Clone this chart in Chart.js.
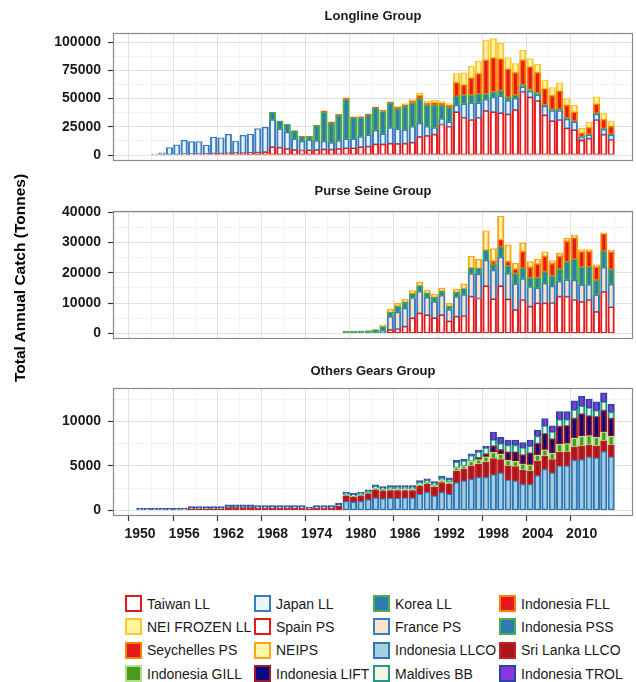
<!DOCTYPE html>
<html>
<head>
<meta charset="utf-8">
<script src="https://cdn.jsdelivr.net/npm/chart.js@4.4.1/dist/chart.umd.min.js"></script>
<style>
html,body{margin:0;padding:0;background:#fff;}
#page{position:relative;width:636px;height:682px;overflow:hidden;font-family:'Liberation Sans',Arial,Helvetica,sans-serif;}
canvas{position:absolute;left:0;}
.ptitle{position:absolute;left:113px;width:520px;text-align:center;font-weight:bold;font-size:13px;line-height:16px;color:#1a1a1a;z-index:2;}
#ytitle{position:absolute;width:300px;left:-130px;top:269px;text-align:center;font-weight:bold;font-size:15.5px;line-height:18px;transform:rotate(-90deg);color:#000;z-index:2;}
#legend{position:absolute;left:125px;top:592px;display:grid;grid-template-columns:129px 119px 126px 130px;grid-auto-rows:23.3px;}
.item{display:flex;align-items:center;font-size:14px;color:#1a1a1a;white-space:nowrap;}
.key{width:17px;height:17px;box-sizing:border-box;border:2px solid;margin-right:5px;flex:none;}
</style>
</head>
<body>
<div id="page">
  <canvas id="c1" width="636" height="170" style="top:0px"></canvas>
  <canvas id="c2" width="636" height="178" style="top:170px"></canvas>
  <canvas id="c3" width="636" height="212" style="top:348px"></canvas>
  <div class="ptitle" style="top:8px">Longline Group</div>
  <div class="ptitle" style="top:183px">Purse Seine Group</div>
  <div class="ptitle" style="top:363px">Others Gears Group</div>
  <div id="ytitle">Total Annual Catch (Tonnes)</div>
  <div id="legend"></div>
</div>
<script>
// ---- categories and tick labels ----
const years = [
  1950,1951,1952,1953,1954,1955,1956,1957,1958,1959,
  1960,1961,1962,1963,1964,1965,1966,1967,1968,1969,
  1970,1971,1972,1973,1974,1975,1976,1977,1978,1979,
  1980,1981,1982,1983,1984,1985,1986,1987,1988,1989,
  1990,1991,1992,1993,1994,1995,1996,1997,1998,1999,
  2000,2001,2002,2003,2004,2005,2006,2007,2008,2009,
  2010,2011,2012,2013,2014
];
const xTickLabels = [1950,1956,1962,1968,1974,1980,1986,1992,1998,2004,2010];
const longlineTicks = [0,25000,50000,75000,100000];
const purseSeineTicks = [0,10000,20000,30000,40000];
const otherGearsTicks = [0,5000,10000];

// ---- Longline group (tonnes per year, 1950-2014) ----
const taiwanLL = [
  null,null,null,null,null,null,700,800,900,1000,
  1200,1300,1500,1600,1800,2000,2200,2500,7000,6500,
  5500,4500,4000,4200,4500,5000,4800,5500,6000,6000,
  7000,7500,9500,9500,10000,9800,10000,11000,16000,17000,
  18000,27000,25000,38000,33000,31000,33000,39000,38000,37000,
  36000,40000,56000,51000,48000,35000,30000,31000,23500,22000,
  13000,14500,31000,18000,13500
];
const japanLL = [
  null,null,700,2000,6500,9000,12300,11000,10900,7800,
  14700,14000,16800,10800,15600,16500,21100,21900,24000,16500,
  14500,9500,8000,9000,8000,7000,6000,7000,8000,8000,
  9000,10000,12000,9000,14000,13000,12000,14000,12000,8000,
  6000,5000,4000,6000,12000,15000,13000,10000,13000,15000,
  12000,10000,4000,5000,5000,8000,9000,8000,8000,7000,
  2500,3000,5000,4500,4000
];
const koreaLL = [
  null,null,null,null,null,null,null,null,null,null,
  null,null,null,null,null,null,null,null,7000,7300,
  7100,7500,4300,3100,13500,26000,17500,22500,35000,18800,
  17000,18000,20000,20000,22000,18000,21000,21000,22000,19000,
  20000,12000,13000,8000,8000,7000,8000,5000,5000,5000,
  3000,3000,2000,2000,2000,1500,1500,1500,1500,1000,
  800,800,1000,800,800
];
const indonesiaFLL = [
  null,null,null,null,null,null,null,null,null,null,
  null,null,null,null,null,null,null,null,null,null,
  null,null,500,500,500,1100,1100,1200,1500,1000,
  1000,1000,1000,1200,1000,1500,1500,2000,2500,2000,
  2500,2000,2000,12000,9000,15000,18000,30000,30000,28000,
  25000,20000,22000,20000,18000,14000,12000,16000,11000,8000,
  3000,6000,8000,8000,7000
];
const neiFrozenLL = [
  null,null,null,null,null,null,null,null,null,null,
  null,null,null,null,null,null,null,null,null,null,
  null,null,null,null,null,null,null,null,null,null,
  null,null,null,null,null,1000,1000,1000,2000,1700,
  2000,2000,1500,8000,10700,10600,11000,17500,17000,14200,
  10200,7900,8700,7300,7300,7700,7200,7400,6000,6100,
  4200,5100,6500,5500,5000
];

// ---- Purse seine group ----
const spainPS = [
  null,null,null,null,null,null,null,null,null,null,
  null,null,null,null,null,null,null,null,null,null,
  null,null,null,null,null,null,null,null,null,null,
  null,null,null,null,1100,1400,2200,5000,6600,6000,
  5000,6000,3900,5500,5700,12100,11500,15600,11300,15600,
  11200,7700,11000,8800,9900,9900,10000,12100,12100,11000,
  10400,11000,7100,13700,8600
];
const francePS = [
  null,null,null,null,null,null,null,null,null,null,
  null,null,null,null,null,null,null,null,null,null,
  null,null,null,null,null,null,null,null,null,null,
  null,null,null,700,4300,5500,6000,6500,7200,5800,
  5400,6400,3800,6500,7000,7500,8000,8500,9500,9500,
  8500,8500,7000,6500,5000,6500,5500,5000,5500,6500,
  5500,5000,5500,8000,7500
];
const indonesiaPSS = [
  null,null,null,null,null,null,null,null,null,null,
  null,null,null,null,null,null,null,null,null,null,
  null,null,null,null,null,null,null,null,700,700,
  800,900,1200,1500,1500,2000,2000,1600,2000,1500,
  1500,1500,1200,1500,2100,2000,2000,3300,2000,3500,
  2500,3500,3500,3000,3500,4000,3500,4000,6000,7000,
  6000,6000,5000,5500,5000
];
const seychellesPS = [
  null,null,null,null,null,null,null,null,null,null,
  null,null,null,null,null,null,null,null,null,null,
  null,null,null,null,null,null,null,null,null,null,
  null,null,null,null,null,null,null,null,null,null,
  null,null,null,null,null,null,null,null,1000,2400,
  1500,1500,5500,3500,4500,5000,4000,4300,6800,7000,
  5000,5000,4300,5700,5800
];
const neiPS = [
  null,null,null,null,null,null,null,null,null,null,
  null,null,null,null,null,null,null,null,null,null,
  null,null,null,null,null,null,null,null,null,null,
  null,null,null,600,1000,1000,1000,1000,1000,1000,
  1000,1000,1000,1000,1500,3900,2900,6500,4200,7700,
  5500,1900,2900,1900,1500,1500,1000,1000,1000,1000,
  800,700,700,300,600
];

// ---- Other gears group ----
const indonesiaLLCO = [
  null,null,null,null,null,null,null,null,null,null,
  null,null,null,null,null,null,null,null,null,null,
  null,null,null,null,null,null,null,null,1000,900,
  1000,1200,1400,1300,1350,1350,1400,1400,1800,2000,
  1600,2000,1800,3100,3300,3500,3700,3700,4000,4200,
  3400,3300,2900,2900,3900,4600,4200,5000,5000,5600,
  5700,6000,5900,6600,6000
];
const sriLankaLLCO = [
  null,null,null,null,null,null,null,150,150,150,
  150,150,300,300,300,300,250,250,250,250,
  250,250,250,150,250,250,250,450,600,550,
  600,650,900,850,850,850,800,800,900,900,
  1000,1100,1100,1300,1300,1500,1500,1700,1800,1500,
  1600,1600,1600,1500,1600,1500,1500,1500,1500,1500,
  1500,1300,1300,1200,1300
];
const indonesiaGILL = [
  null,null,null,null,null,null,null,null,null,null,
  null,null,null,null,null,null,null,null,null,null,
  null,null,null,null,null,null,null,null,100,100,
  100,100,150,150,150,150,150,150,200,200,
  200,250,250,400,400,500,500,600,700,600,
  600,600,700,700,700,700,700,900,1000,1000,
  1100,1100,1000,1000,1000
];
const indonesiaLIFT = [
  null,null,null,null,null,null,null,null,null,null,
  null,null,null,null,null,null,null,null,null,null,
  null,null,null,null,null,null,null,null,null,null,
  null,null,null,null,null,null,null,null,null,null,
  null,null,null,null,null,null,200,300,700,500,
  900,1000,1000,1300,1300,1800,1600,2000,2000,2200,
  2500,2200,2300,2400,2000
];
const maldivesBB = [
  60,60,60,60,60,60,80,80,80,80,
  80,80,100,100,100,100,80,80,80,80,
  80,80,80,60,80,80,80,150,200,200,
  200,200,250,200,250,250,250,250,250,250,
  250,300,300,600,550,650,650,700,700,700,
  800,800,800,800,800,900,800,800,700,1000,
  900,900,700,1000,700
];
const indonesiaTROL = [
  140,140,140,140,140,140,170,170,170,170,
  170,170,200,200,200,200,180,180,180,180,
  180,180,180,140,180,180,180,200,150,150,
  150,150,160,160,160,160,160,160,170,170,
  170,180,180,200,200,200,200,220,900,700,
  600,600,600,700,700,800,700,900,900,1000,
  1100,1000,1000,1000,900
];

// ---- series styling: [fill, outline] ----
const seriesStyle = {
  'Taiwan LL':      ['#FFFFFF', '#E41A1C'],
  'Japan LL':       ['#EAF2FA', '#3A7DBF'],
  'Korea LL':       ['#2F79B9', '#4DAF4A'],
  'Indonesia FLL':  ['#E31A1C', '#FF7F00'],
  'NEI FROZEN LL':  ['#FFF59D', '#FFC533'],
  'Spain PS':       ['#FFFFFF', '#E41A1C'],
  'France PS':      ['#FBE3C9', '#3A7DBF'],
  'Indonesia PSS':  ['#2F79B9', '#4DAF4A'],
  'Seychelles PS':  ['#E31A1C', '#FF7F00'],
  'NEIPS':          ['#FFF6A8', '#FFA31A'],
  'Indonesia LLCO': ['#A6CEE3', '#2F78B4'],
  'Sri Lanka LLCO': ['#A8161C', '#C42025'],
  'Indonesia GILL': ['#4A9A1E', '#B5DE8A'],
  'Indonesia LIFT': ['#0A0A80', '#9E1A26'],
  'Maldives BB':    ['#F4F6DF', '#23978A'],
  'Indonesia TROL': ['#8A35E0', '#24489A']
};
const legendOrder = [
  'Taiwan LL','Japan LL','Korea LL','Indonesia FLL',
  'NEI FROZEN LL','Spain PS','France PS','Indonesia PSS',
  'Seychelles PS','NEIPS','Indonesia LLCO','Sri Lanka LLCO',
  'Indonesia GILL','Indonesia LIFT','Maldives BB','Indonesia TROL'
];

const FONT = "'Liberation Sans', Arial, Helvetica, sans-serif";
const X_MIN = 1946.33, X_MAX = 2016.97;
const MAJOR_GRID = '#e1e1e1', MINOR_GRID = '#f3f3f3', TICK_COLOR = '#333333';

function series(label, data) {
  const [fill, line] = seriesStyle[label];
  return {
    label, data,
    backgroundColor: fill,
    borderColor: line,
    borderWidth: {left: 2, right: 2, top: 1.2, bottom: 1.2},
    borderSkipped: false,
    inflateAmount: 0.35,
    barPercentage: 0.88,
    categoryPercentage: 1.0
  };
}

// grey frame around each plotting panel
const panelFrame = {
  id: 'panelFrame',
  afterDatasetsDraw(chart) {
    const a = chart.chartArea, ctx = chart.ctx;
    ctx.save();
    ctx.strokeStyle = '#8a8a8a';
    ctx.lineWidth = 1.2;
    ctx.strokeRect(a.left + 0.5, a.top + 0.5, a.right - a.left - 1, a.bottom - a.top - 1);
    ctx.restore();
  }
};

// major ticks plus minor midpoints (and one step beyond) that fall in range
function withMinor(majors, lo, hi) {
  const step = majors[1] - majors[0];
  const all = new Set(majors);
  for (let i = -1; i < majors.length; i++) {
    const m = majors[0] + step * i + step / 2;
    if (m > lo && m < hi) all.add(m);
  }
  return [...all].sort((a, b) => a - b);
}

function panel(id, datasets, yMajors, yMin, yMax, padding, showX) {
  const yMajorSet = new Set(yMajors);
  const xMajorSet = new Set(xTickLabels);
  const yAll = withMinor(yMajors, yMin, yMax);
  const xAll = withMinor(xTickLabels, X_MIN, X_MAX);
  const gridColor = set => c => (c.tick && set.has(c.tick.value)) ? MAJOR_GRID : MINOR_GRID;
  const tickColor = set => c => (c.tick && set.has(c.tick.value)) ? TICK_COLOR : 'rgba(0,0,0,0)';
  const tickFont = {family: FONT, size: 14, weight: 'bold'};

  return new Chart(document.getElementById(id), {
    type: 'bar',
    data: {labels: years, datasets},
    plugins: [panelFrame],
    options: {
      responsive: false,
      animation: false,
      devicePixelRatio: 1,
      layout: {padding},
      plugins: {legend: {display: false}, tooltip: {enabled: false}, title: {display: false}},
      scales: {
        x: {
          type: 'linear', min: X_MIN, max: X_MAX, stacked: true, offset: false,
          afterBuildTicks: a => { a.ticks = xAll.map(v => ({value: v})); },
          afterFit: a => { a.height = showX ? 44 : 0; a.paddingLeft = 0; a.paddingRight = 0; },
          ticks: {
            display: showX, autoSkip: false, maxRotation: 0, minRotation: 0, padding: 5,
            font: tickFont, color: '#1a1a1a',
            callback: v => xMajorSet.has(v) ? String(v) : ''
          },
          grid: {
            color: gridColor(xMajorSet), lineWidth: 1,
            drawTicks: showX, tickLength: 5, tickWidth: 1.2, tickColor: tickColor(xMajorSet)
          },
          border: {display: false}
        },
        y: {
          stacked: true, min: yMin, max: yMax,
          afterBuildTicks: a => { a.ticks = yAll.map(v => ({value: v})); },
          afterFit: a => { a.width = 113; a.paddingTop = 0; a.paddingBottom = 0; },
          ticks: {
            autoSkip: false, padding: 7, font: tickFont, color: '#1a1a1a',
            callback: v => yMajorSet.has(v) ? String(v) : ''
          },
          grid: {
            color: gridColor(yMajorSet), lineWidth: 1,
            drawTicks: true, tickLength: 5, tickWidth: 1.2, tickColor: tickColor(yMajorSet)
          },
          border: {display: false}
        }
      }
    }
  });
}

panel('c1', [
  series('Taiwan LL', taiwanLL),
  series('Japan LL', japanLL),
  series('Korea LL', koreaLL),
  series('Indonesia FLL', indonesiaFLL),
  series('NEI FROZEN LL', neiFrozenLL)
], longlineTicks, -5300, 108000, {top: 33, bottom: 9, left: 0, right: 3}, false);

panel('c2', [
  series('Spain PS', spainPS),
  series('France PS', francePS),
  series('Indonesia PSS', indonesiaPSS),
  series('Seychelles PS', seychellesPS),
  series('NEIPS', neiPS)
], purseSeineTicks, -1900, 40430, {top: 41, bottom: 9, left: 0, right: 3}, false);

panel('c3', [
  series('Indonesia LLCO', indonesiaLLCO),
  series('Sri Lanka LLCO', sriLankaLLCO),
  series('Indonesia GILL', indonesiaGILL),
  series('Indonesia LIFT', indonesiaLIFT),
  series('Maldives BB', maldivesBB),
  series('Indonesia TROL', indonesiaTROL)
], otherGearsTicks, -650, 13750, {top: 40, bottom: 0, left: 0, right: 3}, true);

// legend built from the same series styles
const legend = document.getElementById('legend');
legendOrder.forEach(name => {
  const [fill, line] = seriesStyle[name];
  const item = document.createElement('div');
  item.className = 'item';
  const key = document.createElement('span');
  key.className = 'key';
  key.style.background = fill;
  key.style.borderColor = line;
  item.appendChild(key);
  item.appendChild(document.createTextNode(name));
  legend.appendChild(item);
});
</script>
</body>
</html>
